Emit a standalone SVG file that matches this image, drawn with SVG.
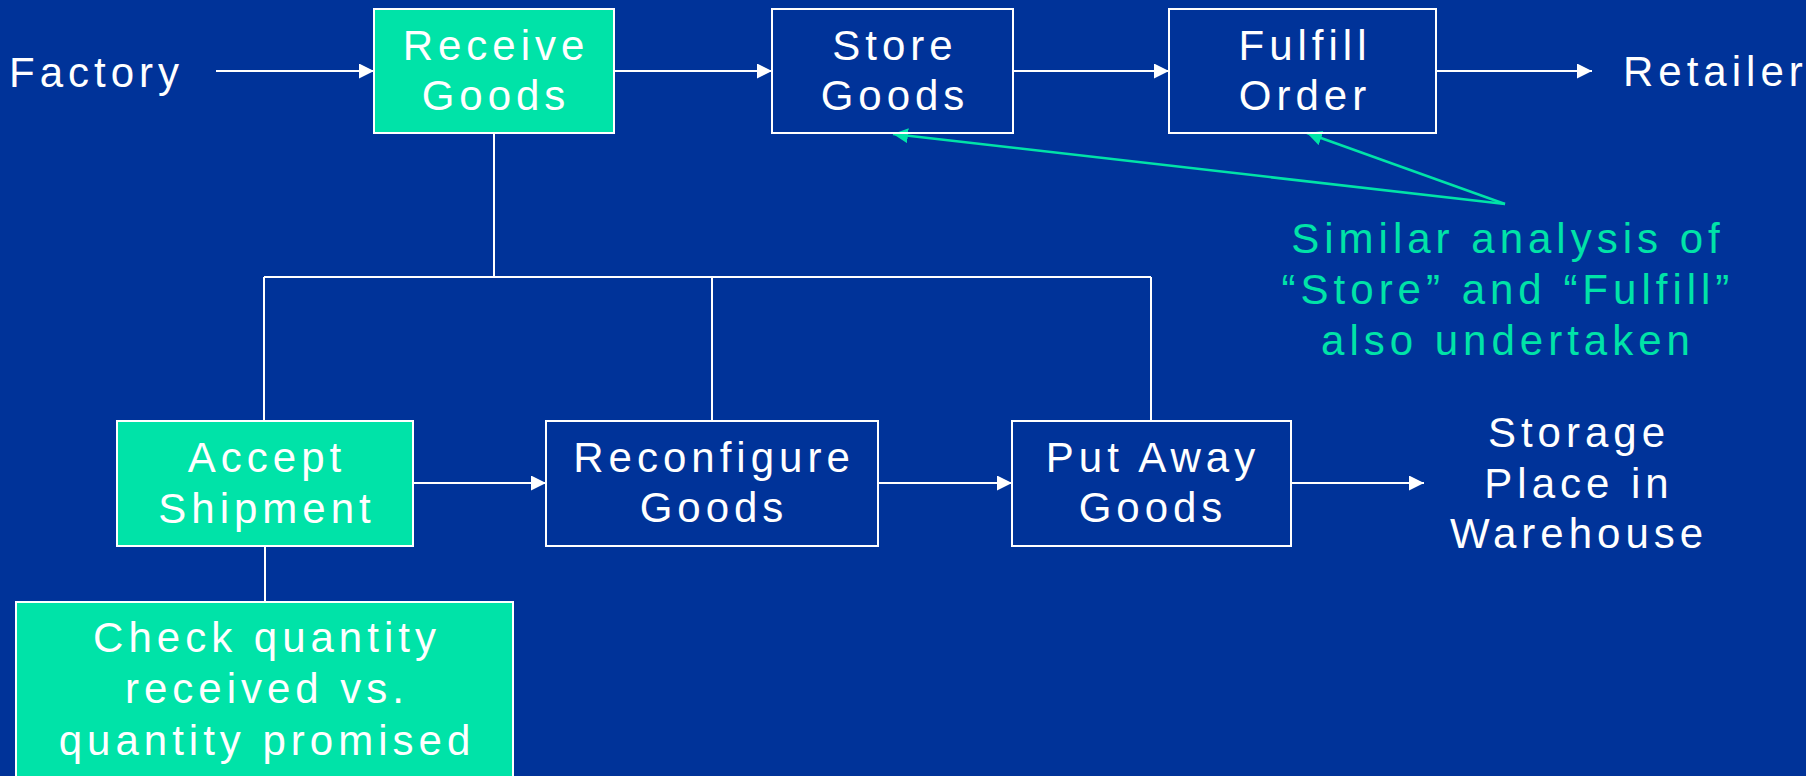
<svg xmlns="http://www.w3.org/2000/svg" width="1806" height="776" viewBox="0 0 1806 776">
<style>
.bg{fill:#003399}
.box{fill:none;stroke:#ffffff;stroke-width:2}
.gbox{fill:#00E3A8;stroke:#ffffff;stroke-width:2}
.t{font-family:"Liberation Sans",Arial,sans-serif;font-size:42px;letter-spacing:5px;fill:#ffffff;text-anchor:middle}
.ts{font-family:"Liberation Sans",Arial,sans-serif;font-size:42px;letter-spacing:5px;fill:#ffffff}
.gt{font-family:"Liberation Sans",Arial,sans-serif;font-size:42px;letter-spacing:5px;fill:#00E3A8;text-anchor:middle}
.w{stroke:#ffffff;stroke-width:2;fill:none}
.wa{stroke:#ffffff;stroke-width:2;fill:none;marker-end:url(#aw)}
.ga{stroke:#00E3A8;stroke-width:2.5;fill:none;marker-end:url(#ag)}
</style>
<defs>
<marker id="aw" markerUnits="userSpaceOnUse" markerWidth="16" markerHeight="16" refX="15" refY="7.5" orient="auto"><path d="M0,0 L15,7.5 L0,15 z" fill="#ffffff"/></marker>
<marker id="ag" markerUnits="userSpaceOnUse" markerWidth="16" markerHeight="16" refX="15" refY="7.5" orient="auto"><path d="M0,0 L15,7.5 L0,15 z" fill="#00E3A8"/></marker>
</defs>
<rect class="bg" x="0" y="0" width="1806" height="776"/>
<g id="connectors">
<line class="wa" x1="216" y1="71" x2="374" y2="71"/>
<line class="wa" x1="614" y1="71" x2="772" y2="71"/>
<line class="wa" x1="1013" y1="71" x2="1169" y2="71"/>
<line class="wa" x1="1436" y1="71" x2="1592" y2="71"/>
<line class="w" x1="494" y1="133" x2="494" y2="277"/>
<line class="w" x1="264" y1="277" x2="1151" y2="277"/>
<line class="w" x1="264" y1="277" x2="264" y2="421"/>
<line class="w" x1="712" y1="277" x2="712" y2="421"/>
<line class="w" x1="1151" y1="277" x2="1151" y2="421"/>
<line class="wa" x1="413" y1="483" x2="546" y2="483"/>
<line class="wa" x1="878" y1="483" x2="1012" y2="483"/>
<line class="wa" x1="1291" y1="483" x2="1424" y2="483"/>
<line class="w" x1="265" y1="546" x2="265" y2="602"/>
<line class="ga" x1="1505" y1="204" x2="893" y2="134"/>
<line class="ga" x1="1505" y1="204" x2="1307" y2="133"/>
</g>
<g id="factory"><text class="ts" x="9" y="87">Factory</text></g>
<g id="receive"><rect class="gbox" x="374" y="9" width="240" height="124"/><text class="t" x="496" y="60">Receive</text><text class="t" x="496" y="110">Goods</text></g>
<g id="store"><rect class="box" x="772" y="9" width="241" height="124"/><text class="t" x="895" y="60">Store</text><text class="t" x="895" y="110">Goods</text></g>
<g id="fulfill"><rect class="box" x="1169" y="9" width="267" height="124"/><text class="t" x="1305" y="60">Fulfill</text><text class="t" x="1305" y="110">Order</text></g>
<g id="retailer"><text class="ts" x="1623" y="86">Retailer</text></g>
<g id="note"><text class="gt" x="1508" y="253">Similar analysis of</text><text class="gt" x="1508" y="304">“Store” and “Fulfill”</text><text class="gt" x="1508" y="355">also undertaken</text></g>
<g id="accept"><rect class="gbox" x="117" y="421" width="296" height="125"/><text class="t" x="267" y="472">Accept</text><text class="t" x="267" y="523">Shipment</text></g>
<g id="reconfigure"><rect class="box" x="546" y="421" width="332" height="125"/><text class="t" x="714" y="472">Reconfigure</text><text class="t" x="714" y="522">Goods</text></g>
<g id="putaway"><rect class="box" x="1012" y="421" width="279" height="125"/><text class="t" x="1153" y="472">Put Away</text><text class="t" x="1153" y="522">Goods</text></g>
<g id="storage"><text class="t" x="1579" y="447">Storage</text><text class="t" x="1579" y="498">Place in</text><text class="t" x="1579" y="548">Warehouse</text></g>
<g id="check"><rect class="gbox" x="16" y="602" width="497" height="200"/><text class="t" x="267" y="652">Check quantity</text><text class="t" x="267" y="703">received vs.</text><text class="t" x="267" y="755">quantity promised</text></g>
</svg>
